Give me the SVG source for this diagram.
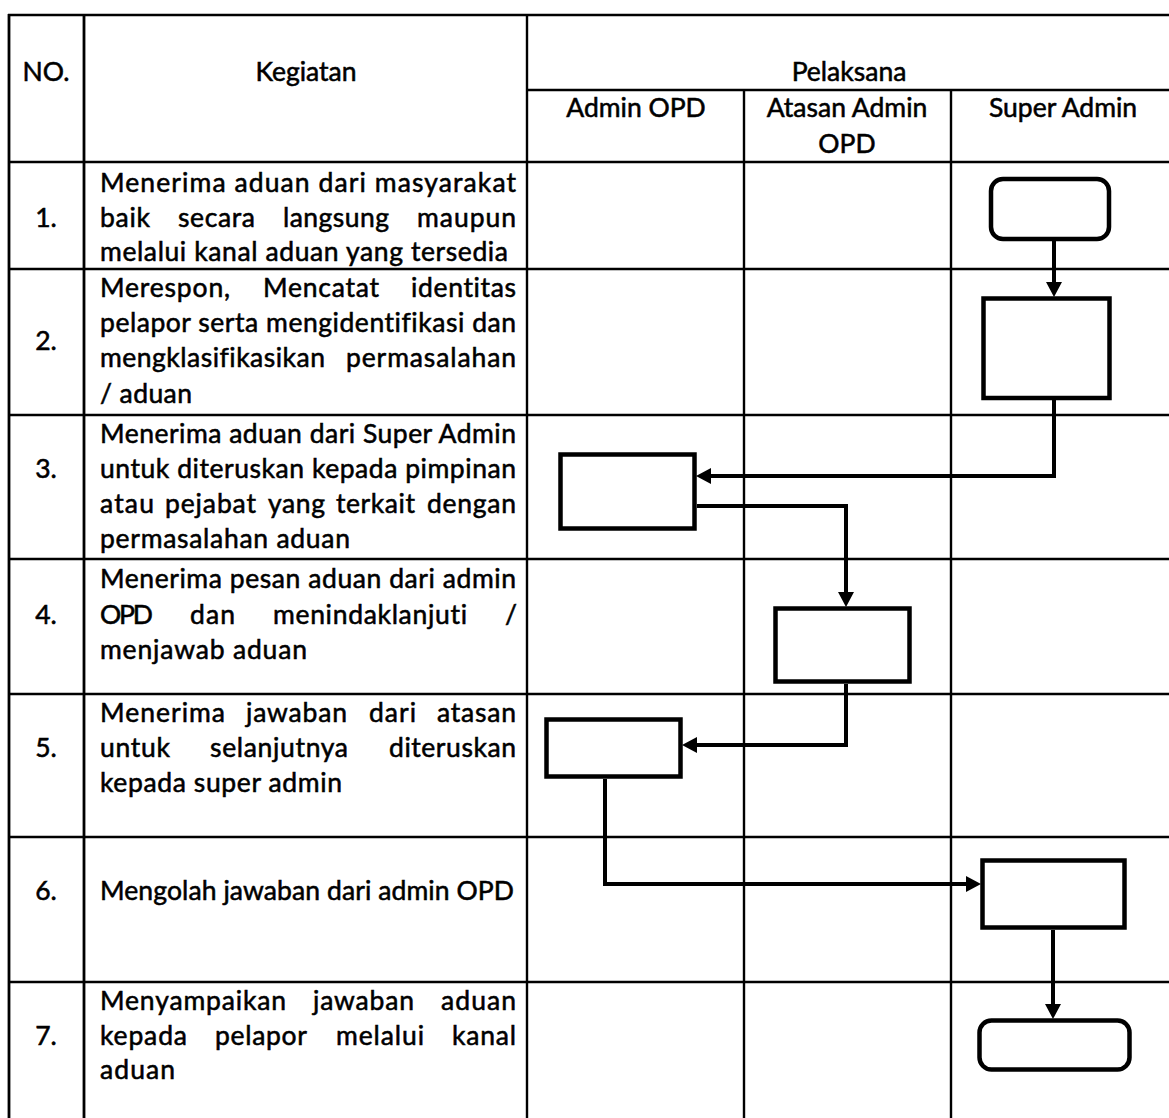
<svg xmlns="http://www.w3.org/2000/svg" width="1169" height="1118" viewBox="0 0 1169 1118">
<style>
text{font-family:Lato,"Open Sans","Liberation Sans",sans-serif;font-size:26.5px;fill:#000;stroke:#000;stroke-width:0.55;font-variant-ligatures:none;font-feature-settings:"liga" 0}
.c{text-anchor:middle}
.e{text-anchor:end}
.grid line{stroke:#000;stroke-width:2.4}
.node rect{fill:#fff;stroke:#000;stroke-width:4.5}
#connectors path{fill:none;stroke:#000;stroke-width:4}
</style>
<defs>
<marker id="arr" markerUnits="userSpaceOnUse" markerWidth="15" markerHeight="16" refX="4" refY="8" orient="auto">
<path d="M0,0 L15,8 L0,16 z" fill="#000"/>
</marker>
</defs>
<rect width="1169" height="1118" fill="#fff"/>
<g id="table" class="grid">
<line x1="8" y1="15" x2="1169" y2="15"/>
<line x1="527" y1="90" x2="1169" y2="90"/>
<line x1="8" y1="162" x2="1169" y2="162"/>
<line x1="8" y1="269" x2="1169" y2="269"/>
<line x1="8" y1="415" x2="1169" y2="415"/>
<line x1="8" y1="559" x2="1169" y2="559"/>
<line x1="8" y1="694" x2="1169" y2="694"/>
<line x1="8" y1="837" x2="1169" y2="837"/>
<line x1="8" y1="982" x2="1169" y2="982"/>
<line x1="9" y1="14" x2="9" y2="1118" style="stroke-width:2.8"/>
<line x1="84" y1="14" x2="84" y2="1118" style="stroke-width:2.8"/>
<line x1="527" y1="14" x2="527" y2="1118"/>
<line x1="744" y1="90" x2="744" y2="1118"/>
<line x1="951" y1="90" x2="951" y2="1118"/>
</g>
<g id="header">
<text class="c" x="46" y="81">NO.</text>
<text class="c" x="306" y="81">Kegiatan</text>
<text class="c" x="849" y="81">Pelaksana</text>
<text class="c" x="636" y="117">Admin OPD</text>
<text class="c" x="847" y="117">Atasan Admin</text>
<text class="c" x="847" y="153">OPD</text>
<text class="c" x="1063" y="117">Super Admin</text>
</g>
<g id="row1">
<text class="c" x="46" y="227">1.</text>
<text x="100" y="192" textLength="416" lengthAdjust="spacing">Menerima aduan dari masyarakat</text>
<text y="227"><tspan x="100" textLength="50" lengthAdjust="spacing">baik</tspan><tspan x="178" textLength="77" lengthAdjust="spacing">secara</tspan><tspan x="283" textLength="106" lengthAdjust="spacing">langsung</tspan><tspan x="417" textLength="99" lengthAdjust="spacing">maupun</tspan></text>
<text x="100" y="261" textLength="408" lengthAdjust="spacing">melalui kanal aduan yang tersedia</text>
</g>
<g id="row2">
<text class="c" x="46" y="350">2.</text>
<text y="297"><tspan x="100" textLength="130" lengthAdjust="spacing">Merespon,</tspan><tspan x="263" textLength="116" lengthAdjust="spacing">Mencatat</tspan><tspan x="411" textLength="105" lengthAdjust="spacing">identitas</tspan></text>
<text x="100" y="332" textLength="416" lengthAdjust="spacing">pelapor serta mengidentifikasi dan</text>
<text y="367"><tspan x="100" textLength="225" lengthAdjust="spacing">mengklasifikasikan</tspan><tspan x="346" textLength="170" lengthAdjust="spacing">permasalahan</tspan></text>
<text x="100" y="403" textLength="92" lengthAdjust="spacing">/ aduan</text>
</g>
<g id="row3">
<text class="c" x="46" y="478">3.</text>
<text x="100" y="443" textLength="416" lengthAdjust="spacing">Menerima aduan dari Super Admin</text>
<text x="100" y="478" textLength="416" lengthAdjust="spacing">untuk diteruskan kepada pimpinan</text>
<text y="513"><tspan x="100" textLength="54" lengthAdjust="spacing">atau</tspan><tspan x="165" textLength="91" lengthAdjust="spacing">pejabat</tspan><tspan x="268" textLength="57" lengthAdjust="spacing">yang</tspan><tspan x="336" textLength="79" lengthAdjust="spacing">terkait</tspan><tspan x="427" textLength="89" lengthAdjust="spacing">dengan</tspan></text>
<text x="100" y="548" textLength="250" lengthAdjust="spacing">permasalahan aduan</text>
</g>
<g id="row4">
<text class="c" x="46" y="624">4.</text>
<text x="100" y="588" textLength="416" lengthAdjust="spacing">Menerima pesan aduan dari admin</text>
<text y="624"><tspan x="100" textLength="53" lengthAdjust="spacing">OPD</tspan><tspan x="190" textLength="45" lengthAdjust="spacing">dan</tspan><tspan x="273" textLength="194" lengthAdjust="spacing">menindaklanjuti</tspan><tspan x="505">/</tspan></text>
<text x="100" y="659" textLength="207" lengthAdjust="spacing">menjawab aduan</text>
</g>
<g id="row5">
<text class="c" x="46" y="757">5.</text>
<text y="722"><tspan x="100" textLength="125" lengthAdjust="spacing">Menerima</tspan><tspan x="246" textLength="101" lengthAdjust="spacing">jawaban</tspan><tspan x="369" textLength="47" lengthAdjust="spacing">dari</tspan><tspan x="437" textLength="79" lengthAdjust="spacing">atasan</tspan></text>
<text y="757"><tspan x="100" textLength="70" lengthAdjust="spacing">untuk</tspan><tspan x="210" textLength="138" lengthAdjust="spacing">selanjutnya</tspan><tspan x="389" textLength="127" lengthAdjust="spacing">diteruskan</tspan></text>
<text x="100" y="792" textLength="242" lengthAdjust="spacing">kepada super admin</text>
</g>
<g id="row6">
<text class="c" x="46" y="900">6.</text>
<text x="100" y="900" textLength="414" lengthAdjust="spacing">Mengolah jawaban dari admin OPD</text>
</g>
<g id="row7">
<text class="c" x="46" y="1045">7.</text>
<text y="1010"><tspan x="100" textLength="186" lengthAdjust="spacing">Menyampaikan</tspan><tspan x="313" textLength="101" lengthAdjust="spacing">jawaban</tspan><tspan x="441" textLength="75" lengthAdjust="spacing">aduan</tspan></text>
<text y="1045"><tspan x="100" textLength="87" lengthAdjust="spacing">kepada</tspan><tspan x="215" textLength="92" lengthAdjust="spacing">pelapor</tspan><tspan x="336" textLength="88" lengthAdjust="spacing">melalui</tspan><tspan x="452" textLength="64" lengthAdjust="spacing">kanal</tspan></text>
<text x="100" y="1079" textLength="75" lengthAdjust="spacing">aduan</text>
</g>
<g id="connectors">
<path d="M1054,241 V286" marker-end="url(#arr)"/>
<path d="M1054,400 V476 H707" marker-end="url(#arr)"/>
<path d="M697,506 H846 V596" marker-end="url(#arr)"/>
<path d="M846,684 V745 H693" marker-end="url(#arr)"/>
<path d="M605,779 V884 H970" marker-end="url(#arr)"/>
<path d="M1053,930 V1008" marker-end="url(#arr)"/>
</g>
<g id="node1" class="node"><rect x="991" y="179" width="118" height="60" rx="12"/></g>
<g id="node2" class="node"><rect x="983.5" y="298.5" width="126" height="99.5"/></g>
<g id="node3" class="node"><rect x="560.5" y="454.5" width="134" height="74"/></g>
<g id="node4" class="node"><rect x="775.5" y="608.5" width="134" height="73"/></g>
<g id="node5" class="node"><rect x="546.5" y="719.5" width="134" height="57"/></g>
<g id="node6" class="node"><rect x="982.5" y="860.5" width="142" height="67"/></g>
<g id="node7" class="node"><rect x="979.5" y="1020.5" width="150" height="49" rx="12"/></g>
</svg>
